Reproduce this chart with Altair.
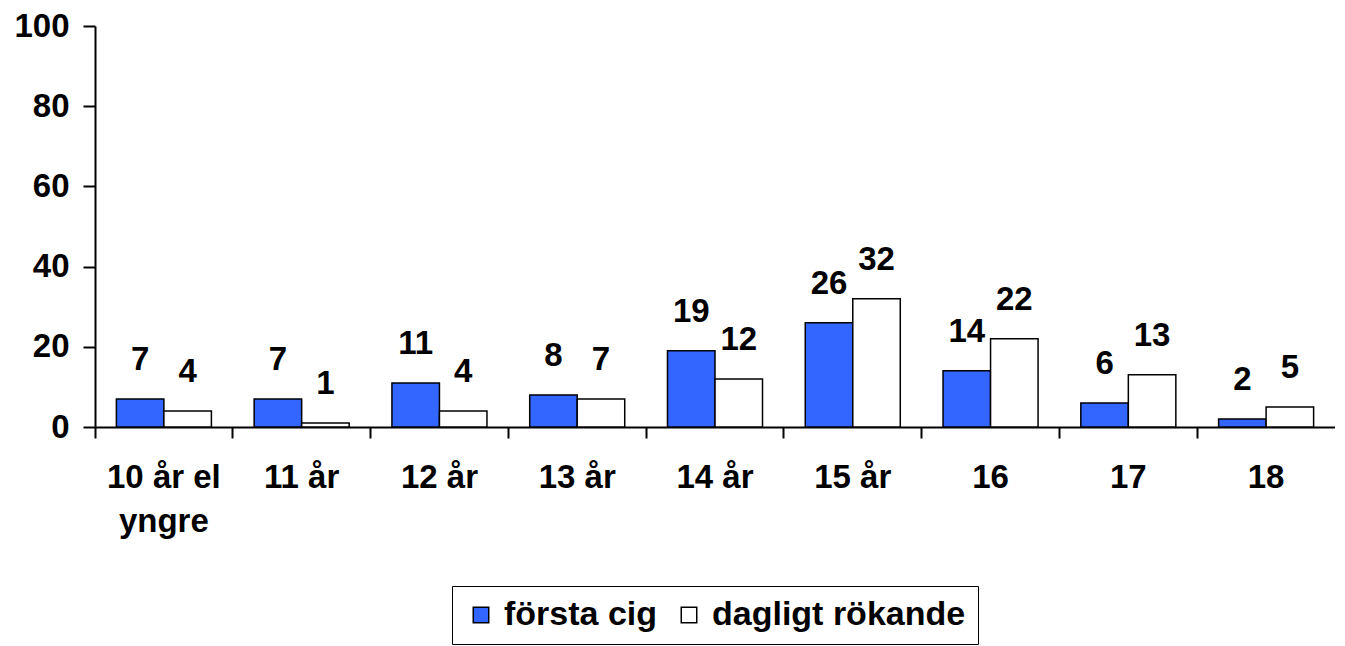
import altair as alt
import pandas as pd

categories = ["10 år el yngre", "11 år", "12 år", "13 år", "14 år", "15 år", "16", "17", "18"]
forsta_cig = [7, 7, 11, 8, 19, 26, 14, 6, 2]
dagligt = [4, 1, 4, 7, 12, 32, 22, 13, 5]
series = ["första cig", "dagligt rökande"]

rows = []
for c, a, b in zip(categories, forsta_cig, dagligt):
    rows.append({"cat": c, "serie": series[0], "val": a})
    rows.append({"cat": c, "serie": series[1], "val": b})
df = pd.DataFrame(rows)

FONT = "Liberation Sans"

x = alt.X("cat:N", sort=categories, title=None,
          scale=alt.Scale(paddingInner=0, paddingOuter=0),
          axis=alt.Axis(labelAngle=0, labelFont=FONT, labelFontSize=33, labelFontWeight="bold",
                        labelColor="black", labelPadding=23, labelLineHeight=44,
                        labelExpr="datum.value == '10 år el yngre' ? ['10 år el', 'yngre'] : datum.value",
                        bandPosition=0, tickSize=11, tickColor="black", tickWidth=2,
                        domainColor="black", domainWidth=2, grid=False))
xo = alt.XOffset("serie:N", sort=series,
                 scale=alt.Scale(paddingInner=0, paddingOuter=0.45))
y = alt.Y("val:Q", title=None,
          scale=alt.Scale(domain=[0, 100]),
          axis=alt.Axis(values=[0, 20, 40, 60, 80, 100], labelFont=FONT, labelFontSize=33,
                        labelFontWeight="bold", labelColor="black", labelPadding=14,
                        tickSize=12, tickColor="black", tickWidth=2,
                        domainColor="black", domainWidth=2, grid=False))

color = alt.Color("serie:N", sort=series, title=None,
                  scale=alt.Scale(domain=series, range=["#3366FF", "#FFFFFF"]),
                  legend=alt.Legend(orient="none", legendX=357, legendY=560, direction="horizontal",
                                    labelFont=FONT, labelFontSize=34, labelFontWeight="bold",
                                    labelColor="black", symbolType="square", symbolSize=240,
                                    symbolStrokeColor="black", symbolStrokeWidth=1.5,
                                    strokeColor="black", padding=12,
                                    columnPadding=14, labelOffset=6, labelLimit=0,
                                    labelExpr="datum.label == 'dagligt rökande' ? datum.label + '\u00a0\u00a0\u00a0\u00a0' : datum.label"))

bars = alt.Chart(df).mark_bar(stroke="black", strokeWidth=1.5).encode(
    x=x, xOffset=xo, y=y, fill=color)

labels = alt.Chart(df).mark_text(baseline="bottom", dy=-22, font=FONT, fontSize=33,
                                 fontWeight="bold", color="black").encode(
    x=alt.X("cat:N", sort=categories), xOffset=alt.XOffset("serie:N", sort=series),
    y=alt.Y("val:Q"), text=alt.Text("val:Q"))

chart = alt.layer(bars, labels).properties(
    width=1240, height=401,
    padding={"left": 5, "top": 2, "right": 0, "bottom": 0},
).configure_view(stroke=None)

chart.save("out.html", embed_options={"renderer": "svg", "actions": False})
